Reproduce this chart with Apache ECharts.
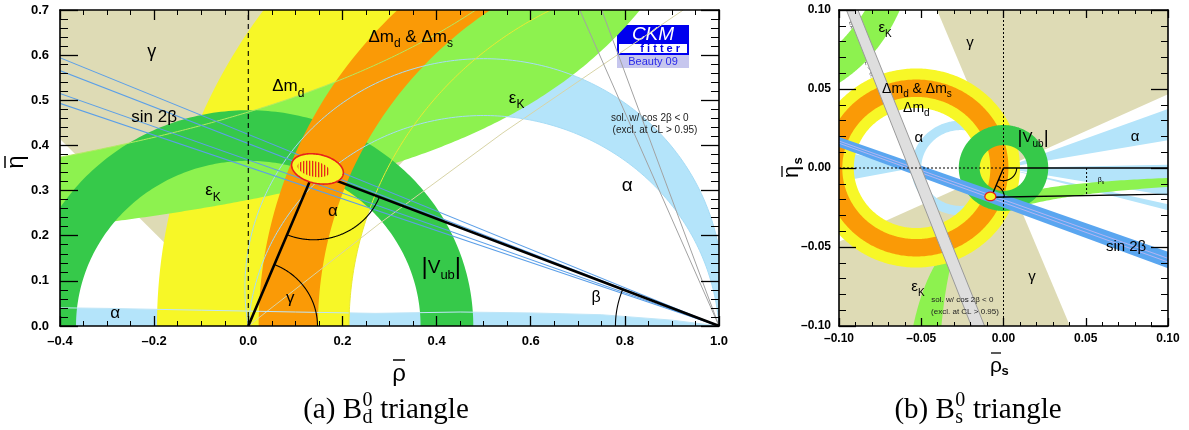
<!DOCTYPE html>
<html><head><meta charset="utf-8"><title>CKM unitarity triangles</title>
<script src="https://cdn.jsdelivr.net/npm/echarts@6.0.0/dist/echarts.min.js"></script>
<style>html,body{margin:0;padding:0;background:#fff}#c{width:1189px;height:430px}</style>
</head><body><div id="c"></div>
<script>
// ===== B_d^0 plane (rho-bar, eta-bar) =====
const bdRho = [-0.4, 1.0];
const bdEta = [0, 0.7];
const bdApex = [0.139, 0.341];
const bdGamma = [0, 0, 48, 134];                 // apex rho, apex eta, from/to angle (deg)
const bdAlphaArcs = [0.085, -0.035];             // circle centres (0.5, c) through (0,0) and (1,0)
const bdAlphaLow = [[-0.45,0.041],[-0.3,0.039],[-0.1,0.035],[0.1,0.031],[0.27,0.028],[0.45,0.031],[0.6,0.029],[0.75,0.025],[0.9,0.013],[1.0,0]];
const bdGammaContour = [[0, 0], [0.28, 0.228], [0.541, 0.428], [0.924, 0.7]];
const bdDmd = [1, 0, 0.786, 1.194];              // centre rho, eta, inner / outer radius
const bdDms = [1, 0, 0.852, 0.978];
const bdVub = [0, 0, 0.366, 0.478];
const bdEpsK = [[0.387, 1.385], [0.709, 1.496]]; // band edges  eta = k / (p - rho)
const bdSin2b = [19.4, 20.2, 22.0, 23.0];        // beta (deg) of the sin 2beta contours
const bdCos2bNeg = [67.1, 70.4];                 // second solution, cos 2beta < 0
const bdFit = [0.147, 0.348, 0.056, 0.032, -13]; // centre, half axes, tilt
const bdFitCore = [0.139, 0.348, 0.035, 0.017, -13];
const bdAngleRadii = [0.147, 0.15, 0.22];        // gamma, alpha, beta markers

// ===== B_s^0 plane (rho_s-bar, eta_s-bar) =====
const bsRho = [-0.1, 0.1];
const bsEta = [-0.1, 0.1];
const bsApex = [-0.0075, -0.0185];
const bsGamma = [[0, 0, 25, 112], [0, 0, 205, 292]];
const bsAlphaRing = [-0.026, 0, 0.024, 0.030];
const bsAlphaWedges = [[-0.055, 0, 166, 191], [0, 0, -15, 20.5]];
const bsAlphaGaps = [[0, 0, 1.2, 10], [0, 0, -12.9, -10]];
const bsDmd = [-0.053, 0, 0.038, 0.063];
const bsDms = [-0.053, 0, 0.045, 0.056];
const bsVub = [0, 0, 0.0145, 0.0272];
const bsEpsKLow = [[-0.047, -0.000926], [-0.076, -0.00211]];  // edges (rho - a) * eta = k
const bsEpsKHigh = [[-0.02, -0.0043], [-0.0238, -0.00602]];
const bsSin2b = [[[-0.1, 0.0196], [0.1, -0.053]], [[-0.1, 0.0133], [0.1, -0.0635]]];
const bsCos2bNeg = [[[-0.0955, 0.1], [-0.0195, -0.1]], [[-0.0885, 0.1], [-0.0115, -0.1]]];
const bsFit = [-0.008, -0.018, 0.0033, 0.0027, 0];
const bsBetaS = 0.0505;
const bsAngleRadius = 0.008;

// ===== in-plot annotations: text, rho, eta, font size =====
const bdLabels = [
  ['γ', -0.205, 0.607, 18],
  ['{m|Δm}{s|d}', 0.085, 0.53, 17],
  ['{m|Δm}{s|d}{m| & Δm}{s|s}', 0.345, 0.64, 17],
  ['sin 2β', -0.2, 0.463, 17],
  ['{m|ε}{s|K}', -0.075, 0.30, 17],
  ['{m|ε}{s|K}', 0.57, 0.505, 17],
  ['α', 0.18, 0.253, 17],
  ['γ', 0.089, 0.062, 17],
  ['{b||}{m|V}{s|ub}{b||}', 0.41, 0.13, 19],
  ['β', 0.739, 0.062, 16],
  ['α', -0.283, 0.027, 17],
  ['α', 0.805, 0.31, 19],
  ['sol. w/ cos 2β < 0', 0.853, 0.461, 10],
  ['(excl. at CL > 0.95)', 0.864, 0.434, 10]
];
const bsLabels = [
  ['{m|ε}{s|K}', -0.072, 0.0886, 15],
  ['γ', -0.0204, 0.079, 15],
  ['{m|Δm}{s|d}{m| & Δm}{s|s}', -0.0526, 0.050, 14],
  ['{m|Δm}{s|d}', -0.053, 0.038, 14],
  ['α', -0.0514, 0.019, 15],
  ['{b||}{m|V}{s|ub}{b||}', 0.018, 0.019, 15],
  ['α', 0.08, 0.0196, 15],
  ['{m|β}{s|s}', 0.0593, -0.0076, 7],
  ['sin 2β', 0.0745, -0.05, 15],
  ['γ', 0.0173, -0.069, 15],
  ['{m|ε}{s|K}', -0.052, -0.0753, 15],
  ['sol. w/ cos 2β < 0', -0.025, -0.0835, 8],
  ['(excl. at CL > 0.95)', -0.0234, -0.091, 8]
];

const FONT = '"Liberation Sans", Arial, Helvetica, sans-serif';
const SERIF = '"Liberation Serif", "DejaVu Serif", serif';
const C = {
  gamma: '#dedbb5', alpha: '#b4e4fa', dmd: '#f7f727', dms: '#fa9a06',
  epsK: '#8df24f', vub: '#36c94a', sin2b: '#5aa6f0', grey: '#dedede'
};

// ---------- geometry helpers (data coordinates) ----------
const D2R = Math.PI / 180;
function arcPts(cx, cy, r, a0, a1, n = 200) {
  const p = [];
  for (let i = 0; i <= n; i++) {
    const a = (a0 + (a1 - a0) * i / n) * D2R;
    p.push([cx + r * Math.cos(a), cy + r * Math.sin(a)]);
  }
  return p;
}
function ringPts(c) {
  return arcPts(c[0], c[1], c[3], 0, 360, 360).concat(arcPts(c[0], c[1], c[2], 360, 0, 360));
}
function wedgePts(w, R) { return [[w[0], w[1]]].concat(arcPts(w[0], w[1], R, w[2], w[3])); }
function alphaCircle(c) {
  const r = Math.hypot(0.5, c), a1 = Math.atan2(-c, 0.5) / D2R;
  return arcPts(0.5, c, r, a1, 180 - a1);
}
function lensPts(cs) { return alphaCircle(cs[0]).concat(alphaCircle(cs[1]).reverse()); }
function hypBd(e, rho0, etaMax, n = 200) {
  const [k, p] = e, rho1 = p - k / etaMax, out = [];
  for (let i = 0; i <= n; i++) { const r = rho0 + (rho1 - rho0) * i / n; out.push([r, k / (p - r)]); }
  return out;
}
function hypBs(e, branch, lim = 0.13, n = 200) {
  const [a, k] = e, d0 = Math.abs(k) / lim, d1 = branch > 0 ? lim - a : lim + a, out = [];
  for (let i = 0; i <= n; i++) {
    const d = d0 * Math.pow(d1 / d0, i / n);
    out.push(branch > 0 ? [a + d, k / d] : [a - d, -k / d]);
  }
  return out;
}
function ext(seg) {
  const [p, q] = seg, dx = q[0] - p[0], dy = q[1] - p[1];
  return [[p[0] - dx, p[1] - dy], [q[0] + dx, q[1] + dy]];
}
function lerpSeg(a, b, t) {
  return [0, 1].map(i => [a[i][0] + (b[i][0] - a[i][0]) * t, a[i][1] + (b[i][1] - a[i][1]) * t]);
}
function ellipsePts(e, n = 120) {
  const [cx, cy, a, b, t] = e, ct = Math.cos(t * D2R), st = Math.sin(t * D2R), p = [];
  for (let i = 0; i < n; i++) {
    const u = 2 * Math.PI * i / n, x = a * Math.cos(u), y = b * Math.sin(u);
    p.push([cx + x * ct - y * st, cy + x * st + y * ct]);
  }
  return p;
}
function ray(from, angDeg, len) {
  return [from, [from[0] + len * Math.cos(angDeg * D2R), from[1] + len * Math.sin(angDeg * D2R)]];
}
function angleTo(p, q) { return Math.atan2(q[1] - p[1], q[0] - p[0]) / D2R; }

// ---------- hatch pattern for the inner fit region ----------
const hatch = document.createElement('canvas');
hatch.width = 3; hatch.height = 3;
(function () { const h = hatch.getContext('2d'); h.fillStyle = C.dmd; h.fillRect(0, 0, 3, 3); h.fillStyle = '#e62a18'; h.fillRect(0, 0, 1.3, 3); })();

// ---------- series builders ----------
const S = [];
const fillS = (c) => ({ fill: c, stroke: null, lineWidth: 0 });
const lineS = (c, w, dash) => ({ fill: null, stroke: c, lineWidth: w, lineDash: dash || null });
function layer(g, items) {
  S.push({
    type: 'custom', xAxisIndex: g, yAxisIndex: g, silent: true, clip: true,
    data: [[0, 0]],
    renderItem(params, api) {
      const cs = params.coordSys;
      return {
        type: 'group',
        children: items.map(it => ({
          type: it.closed ? 'polygon' : 'polyline',
          shape: { points: it.pts.map(p => api.coord(p)) },
          style: it.style,
          clipPath: { type: 'rect', shape: { x: cs.x, y: cs.y, width: cs.width, height: cs.height } }
        }))
      };
    }
  });
}
const poly = (pts, style) => ({ pts, style, closed: true });
const line = (pts, style) => ({ pts, style, closed: false });

function labels(g, list) {
  S.push({
    type: 'custom', xAxisIndex: g, yAxisIndex: g, silent: true, z: 5,
    data: list.map(l => [l[1], l[2]]),
    renderItem(params, api) {
      const l = list[params.dataIndex], f = l[3], pt = api.coord([l[1], l[2]]);
      const tok = (size, extra) => Object.assign({ fontSize: size, fontFamily: FONT, fill: '#000' }, extra);
      return {
        type: 'text', x: pt[0], y: pt[1],
        style: {
          text: l[0], fontSize: f, fontFamily: FONT, fill: f < 12 ? '#222' : '#000',
          align: 'center', verticalAlign: 'middle', textAlign: 'center', textVerticalAlign: 'middle',
          rich: {
            m: tok(f, { lineHeight: Math.round(f * 1.5) }),
            s: tok(Math.round(f * 0.68), { verticalAlign: 'bottom', lineHeight: Math.round(f * 0.85) }),
            b: tok(Math.round(f * 1.25), { lineHeight: Math.round(f * 1.5) })
          }
        }
      };
    }
  });
}

// ================= left panel: B_d^0 triangle =================
layer(0, [poly(wedgePts(bdGamma, 3), fillS(C.gamma))]);
layer(0, [
  poly(lensPts(bdAlphaArcs), fillS(C.alpha)),
  poly(bdAlphaLow.concat([[1.0, -0.01], [-0.45, -0.01]]), fillS(C.alpha))
]);
layer(0, [poly(ringPts(bdDmd), fillS(C.dmd))]);
layer(0, [poly(hypBd(bdEpsK[0], -0.5, 0.8).concat(hypBd(bdEpsK[1], -0.5, 0.8).reverse()), fillS(C.epsK))]);
layer(0, [poly(ringPts(bdVub), fillS(C.vub))]);
layer(0, [poly(ringPts(bdDms), fillS(C.dms))]);
// thin contour outlines drawn across the filled areas
layer(0, [
  line(bdGammaContour, lineS('#d8d4a6', 1)),
  line(alphaCircle(bdAlphaArcs[0]), lineS('#a6dcf6', 1)),
  line(alphaCircle(bdAlphaArcs[1]), lineS('#a6dcf6', 1)),
  line(bdAlphaLow, lineS('#bfe6f8', 1)),
  line(arcPts(bdDmd[0], bdDmd[1], bdDmd[2], 90, 180), lineS('#eaea34', 1)),
  line(hypBd(bdEpsK[1], -0.5, 0.8), lineS('#b4ea62', 1)),
  ...bdSin2b.map(b => line([[1, 0], [1 - 2 * Math.cos(b * D2R), 2 * Math.sin(b * D2R)]], lineS('#5b9fe8', 1.1))),
  ...bdCos2bNeg.map(b => line(ray([1, 0], 180 - b, 1.2), lineS('#a2a2a2', 1)))
]);
layer(0, [
  line([[0, 0], [0, bdEta[1]]], lineS('#000', 1.1, [5, 4])),
  line([[0, 0], bdApex, [1, 0]], lineS('#000', 2.6)),
  line(arcPts(0, 0, bdAngleRadii[0], 0, angleTo([0, 0], bdApex)), lineS('#000', 1.1)),
  line(arcPts(bdApex[0], bdApex[1], bdAngleRadii[1], angleTo(bdApex, [0, 0]), angleTo(bdApex, [1, 0])), lineS('#000', 1.1)),
  line(arcPts(1, 0, bdAngleRadii[2], angleTo([1, 0], bdApex), 180), lineS('#000', 1.1))
]);
layer(0, [
  poly(ellipsePts(bdFit), { fill: C.dmd, stroke: '#e8201a', lineWidth: 1.6 }),
  poly(ellipsePts(bdFitCore), { fill: { type: 'pattern', image: hatch, repeat: 'repeat' }, stroke: null })
]);
labels(0, bdLabels);

// ================= right panel: B_s^0 triangle =================
layer(1, bsGamma.map(w => poly(wedgePts(w, 0.3), fillS(C.gamma))));
layer(1, [
  poly(ringPts(bsAlphaRing), fillS(C.alpha)),
  ...bsAlphaWedges.map(w => poly(wedgePts(w, 0.3), fillS(C.alpha))),
  ...bsAlphaGaps.map(w => poly(wedgePts(w, 0.3), fillS('#ffffff')))
]);
layer(1, [
  poly(hypBs(bsEpsKLow[0], 1).concat(hypBs(bsEpsKLow[1], 1).reverse()), fillS(C.epsK)),
  poly(hypBs(bsEpsKHigh[0], -1).concat(hypBs(bsEpsKHigh[1], -1).reverse()), fillS(C.epsK))
]);
layer(1, [poly(ringPts(bsDmd), fillS(C.dmd))]);
layer(1, [poly(ringPts(bsDms), fillS(C.dms))]);
layer(1, [poly(ringPts(bsVub), fillS(C.vub))]);
layer(1, [
  poly(ext(bsSin2b[0]).concat(ext(bsSin2b[1]).reverse()), fillS(C.sin2b)),
  line(ext(lerpSeg(bsSin2b[0], bsSin2b[1], 0.4)), lineS('#c9b8f2', 0.8)),
  line(ext(lerpSeg(bsSin2b[0], bsSin2b[1], 0.62)), lineS('#c9b8f2', 0.8))
]);
layer(1, [
  poly(ext(bsCos2bNeg[0]).concat(ext(bsCos2bNeg[1]).reverse()), { fill: C.grey, stroke: null }),
  line(ext(bsCos2bNeg[0]), lineS('#9a9a9a', 1)),
  line(ext(bsCos2bNeg[1]), lineS('#9a9a9a', 1))
]);
layer(1, [
  line([[0, bsEta[0]], [0, bsEta[1]]], lineS('#000', 1, [2, 2])),
  line([[bsRho[0], 0], [0, 0]], lineS('#000', 1, [2, 2])),
  line([[0, 0], [1, 0]], lineS('#000', 1.4)),
  line([[0, 0], bsApex, [1, 0]], lineS('#000', 1.4)),
  line([[bsBetaS, 0], [bsBetaS, bsApex[1] * (1 - bsBetaS) / (1 - bsApex[0])]], lineS('#000', 1, [2, 2])),
  line(arcPts(0, 0, bsAngleRadius, angleTo([0, 0], bsApex), 0), lineS('#000', 1.1)),
  line(arcPts(bsApex[0], bsApex[1], bsAngleRadius, angleTo(bsApex, [1, 0]), angleTo(bsApex, [0, 0])), lineS('#000', 1.1))
]);
layer(1, [poly(ellipsePts(bsFit), { fill: C.dmd, stroke: '#e8201a', lineWidth: 1.3 })]);
labels(1, bsLabels);

// ---------- axes ----------
function fmt(v, d) {
  if (Math.abs(v) < 1e-9) v = 0;
  const s = Math.abs(v).toFixed(d);
  return v < 0 ? '–' + s : s;
}
function axis(g, pos, range, step, minor, d, len, mlen, showLabel, fsize, margin) {
  return {
    type: 'value', gridIndex: g, position: pos, min: range[0], max: range[1], interval: step, z: 10,
    axisLine: { show: true, onZero: false, lineStyle: { color: '#000', width: 1.6 } },
    axisTick: { show: true, inside: true, length: len, lineStyle: { color: '#000', width: 1.3 } },
    minorTick: { show: true, splitNumber: minor, length: mlen, lineStyle: { color: '#000', width: 1 } },
    splitLine: { show: false }, minorSplitLine: { show: false },
    axisLabel: {
      show: showLabel, color: '#000', fontFamily: FONT, fontWeight: 'bold', fontSize: fsize,
      margin: margin, formatter: v => fmt(v, d)
    }
  };
}

// ---------- decorations ----------
const mctx = document.createElement('canvas').getContext('2d');
function tw(s, font) { mctx.font = font; return mctx.measureText(s).width; }
function txt(x, y, text, font, fill, extra) {
  return Object.assign({
    type: 'text', x, y, silent: true,
    style: { text, font, fill: fill || '#000', align: 'center', verticalAlign: 'middle', textAlign: 'center', textVerticalAlign: 'middle' }
  }, extra || {});
}
function bar(x1, y1, x2, y2, w) {
  return { type: 'line', silent: true, shape: { x1, y1, x2, y2 }, style: { stroke: '#000', lineWidth: w || 1.5 } };
}
function caption(cx, cy, pre, sub, sup, post) {
  const f = `29px ${SERIF}`, sf = `20px ${SERIF}`;
  const w1 = tw(pre, f), w2 = Math.max(tw(sub, sf), tw(sup, sf)) + 1, w3 = tw(post, f);
  const x0 = cx - (w1 + w2 + w3) / 2;
  const L = (x, y, t, font) => ({ type: 'text', x, y, silent: true, style: { text: t, font, fill: '#000', align: 'left', verticalAlign: 'middle', textAlign: 'left', textVerticalAlign: 'middle' } });
  return [L(x0, cy, pre, f), L(x0 + w1 + 0.5, cy - 9, sup, sf), L(x0 + w1 + 0.5, cy + 8, sub, sf), L(x0 + w1 + w2, cy, post, f)];
}
function logo(x, y, w, s, tag) {
  const hb = 30 * s;
  return [
    { type: 'rect', silent: true, shape: { x, y, width: w, height: hb }, style: { fill: '#0000ee' } },
    txt(x + w / 2, y + 9.5 * s, 'CKM', `italic ${Math.round(19 * s)}px ${FONT}`, '#fff'),
    { type: 'rect', silent: true, shape: { x: x + 2 * s, y: y + 19 * s, width: w - 4 * s, height: 9 * s }, style: { fill: '#fff' } },
    txt(x + w * 0.6, y + 23.6 * s, 'f i t t e r', `bold ${Math.round(10.5 * s)}px ${FONT}`, '#0000ee'),
    { type: 'rect', silent: true, shape: { x, y: y + hb, width: w, height: 13 * s }, style: { fill: '#c6c6ee' } },
    txt(x + w / 2, y + hb + 6.8 * s, tag, `${Math.round(11 * s)}px ${FONT}`, '#2a2ae8')
  ];
}

const graphic = [].concat(
  caption(386, 410, '(a) B', 'd', '0', ' triangle'),
  caption(978, 410, '(b) B', 's', '0', ' triangle'),
  [
    // axis titles: rho-bar, eta-bar (bars drawn as strokes)
    txt(399, 374, 'ρ', `24px ${FONT}`), bar(393, 360, 405, 360),
    txt(996, 366, 'ρ', `21px ${FONT}`), bar(991, 353, 1001, 353, 1.3),
    txt(1005, 371, 's', `bold 13px ${FONT}`),
    txt(16, 162, 'η', `24px ${FONT}`, '#000', { rotation: Math.PI / 2 }),
    bar(5, 156, 5, 168),
    txt(792, 172, 'η', `22px ${FONT}`, '#000', { rotation: Math.PI / 2 }),
    bar(782, 166, 782, 177, 1.3),
    txt(798, 161, 's', `bold 13px ${FONT}`, '#000', { rotation: Math.PI / 2 }),
    { type: 'rect', silent: true, shape: { x: 79, y: 18, width: 14, height: 157 }, style: { fill: '#e6e6e6', stroke: '#8c8c8c', lineWidth: 1 } },
    txt(86, 96.5, 'excluded area has CL > 0.95', `10px ${FONT}`, '#222', { rotation: Math.PI / 2 }),
    { type: 'rect', silent: true, shape: { x: 1058, y: 21, width: 100, height: 7.5 }, style: { fill: '#e2e2e2', stroke: '#a0a0a0', lineWidth: 1 } },
    txt(1108, 24.8, 'excluded area has CL > 0.95', `7px ${FONT}`, '#333'),
    txt(863, 53, 'excluded at CL > 0.95', `7px ${FONT}`, '#555', { rotation: -68 * D2R })
  ],
  logo(617, 25, 72, 1, 'Beauty 09'),
  logo(855, 280, 51, 0.69, 'Moriond 09')
);

const option = {
  animation: false,
  backgroundColor: '#fff',
  grid: [
    { left: 60, top: 10, width: 659, height: 316 },
    { left: 839, top: 10, width: 329, height: 316 }
  ],
  xAxis: [
    axis(0, 'bottom', bdRho, 0.2, 4, 1, 10, 5, true, 13, 9),
    axis(1, 'bottom', bsRho, 0.05, 5, 2, 8, 4, true, 12, 7),
    axis(0, 'top', bdRho, 0.2, 4, 1, 10, 5, false, 13, 9),
    axis(1, 'top', bsRho, 0.05, 5, 2, 8, 4, false, 12, 7)
  ],
  yAxis: [
    axis(0, 'left', bdEta, 0.1, 5, 1, 18, 8, true, 13, 11),
    axis(1, 'left', bsEta, 0.05, 5, 2, 17, 7, true, 12, 8),
    axis(0, 'right', bdEta, 0.1, 5, 1, 18, 8, false, 13, 11),
    axis(1, 'right', bsEta, 0.05, 5, 2, 17, 7, false, 12, 8)
  ],
  series: S,
  graphic: graphic
};

const chart = echarts.init(document.getElementById('c'), null, { renderer: 'canvas' });
chart.setOption(option);
</script>
</body></html>
